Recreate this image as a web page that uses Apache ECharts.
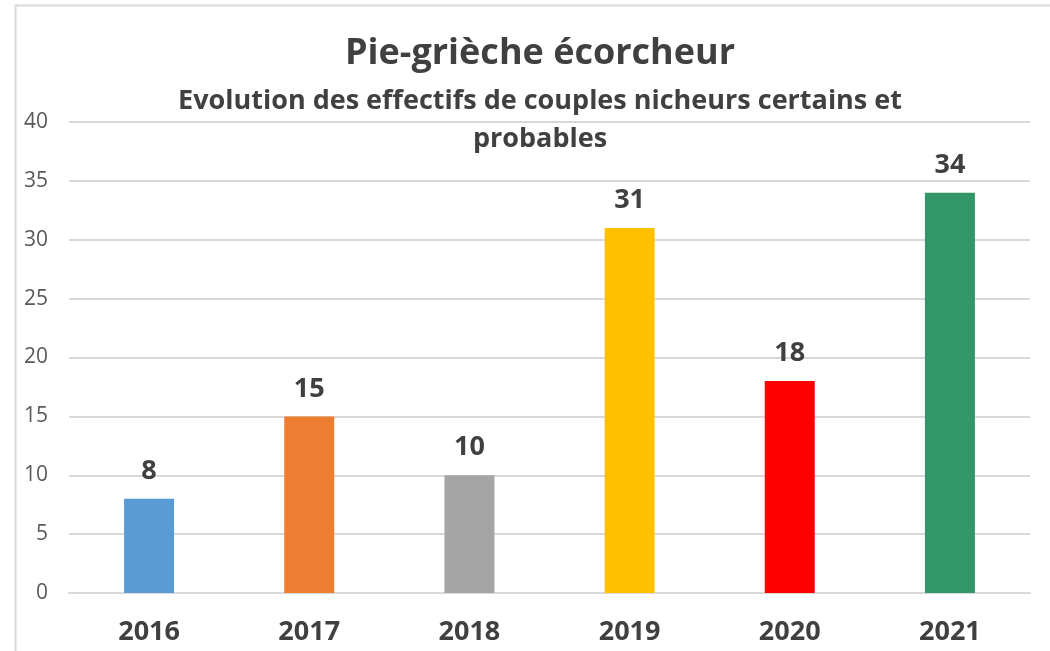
<!DOCTYPE html>
<html>
<head>
<meta charset="utf-8">
<script src="https://cdn.jsdelivr.net/npm/echarts@6/dist/echarts.min.js"></script>
<style>html,body{margin:0;padding:0;background:#fff;}#c{width:1050px;height:651px;}</style>
</head>
<body>
<div id="c"></div>
<script>
const categories = ['2016', '2017', '2018', '2019', '2020', '2021'];
const values = [8, 15, 10, 31, 18, 34];
const barColors = ['#5B9BD5', '#ED7D31', '#A5A5A5', '#FFC000', '#FF0000', '#339669'];
const yTicks = [0, 5, 10, 15, 20, 25, 30, 35, 40];
const titleText = 'Pie-grièche écorcheur';
const subtitleText = 'Evolution des effectifs de couples nicheurs certains et\nprobables';

const chart = echarts.init(document.getElementById('c'));
const font = '"Open Sans", Lato, sans-serif';
chart.setOption({
  animation: false,
  backgroundColor: '#fff',
  graphic: [{
    type: 'rect',
    shape: { x: 15.5, y: 5.5, width: 1200, height: 800 },
    style: { fill: 'none', stroke: '#d9d9d9', lineWidth: 2 },
    silent: true
  }],
  title: [{
    text: titleText,
    left: 535, textAlign: 'center', top: 31,
    textStyle: { fontFamily: font, fontWeight: 'bold', fontSize: 36, color: '#404040' }
  }, {
    text: subtitleText,
    left: 535, textAlign: 'center', top: 77,
    textStyle: { fontFamily: font, fontWeight: 'bold', fontSize: 27, lineHeight: 38, color: '#404040' }
  }],
  grid: { left: 69, right: 20, top: 122, bottom: 58, containLabel: false },
  xAxis: {
    type: 'category',
    data: categories,
    axisLine: { show: true, lineStyle: { color: '#d9d9d9', width: 2 } },
    axisTick: { show: false },
    axisLabel: { fontFamily: font, fontWeight: 'bold', fontSize: 27, color: '#404040', margin: 26 }
  },
  yAxis: {
    type: 'value',
    min: 0, max: 40, interval: 5,
    axisLine: { show: false },
    axisTick: { show: false },
    splitLine: { lineStyle: { color: '#d9d9d9', width: 2 } },
    axisLabel: {
      fontFamily: font, fontSize: 21, color: '#595959', margin: 21,
      formatter: v => yTicks.includes(v) ? String(v) : ''
    }
  },
  series: [{
    type: 'bar',
    data: values.map((v, i) => ({ value: v, itemStyle: { color: barColors[i] } })),
    barWidth: 50,
    label: {
      show: true, position: 'top', distance: 14,
      fontFamily: font, fontWeight: 'bold', fontSize: 27, color: '#404040'
    }
  }]
});
</script>
</body>
</html>
